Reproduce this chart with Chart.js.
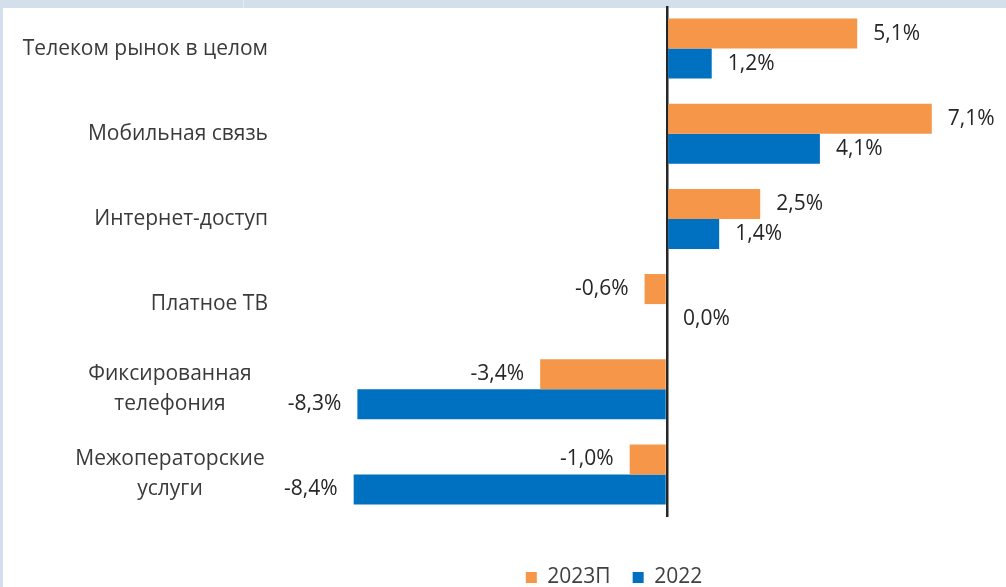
<!DOCTYPE html>
<html lang="ru">
<head>
<meta charset="utf-8">
<title>Телеком рынок</title>
<script src="https://cdn.jsdelivr.net/npm/chart.js@4/dist/chart.umd.min.js"></script>
<style>
  html, body { margin: 0; padding: 0; background: #ffffff; }
  #wrap { position: relative; width: 1006px; height: 587px; }
</style>
</head>
<body>
<div id="wrap"><canvas id="chart" width="1006" height="587"></canvas></div>
<script>
// ── Data ─────────────────────────────────────────────────────────────── //
var categories = [
  ['Телеком рынок в целом'],
  ['Мобильная связь'],
  ['Интернет-доступ'],
  ['Платное ТВ'],
  ['Фиксированная', 'телефония'],
  ['Межоператорские', 'услуги']
];
var seriesNames  = ['2023П', '2022'];
var values2023P  = [5.1, 7.1, 2.5, -0.6, -3.4, -1.0];
var values2022   = [1.2, 4.1, 1.4, 0.0, -8.3, -8.4];

var ORANGE = '#F59648';
var BLUE   = '#0070C0';
var FONT   = '"Open Sans", "Noto Sans", sans-serif';

function fmtPct(v) { return v.toFixed(1).replace('.', ',') + '%'; }

// ── Plugins ──────────────────────────────────────────────────────────── //
var backdrop = {
  id: 'backdrop',
  beforeDraw: function (chart) {
    var ctx = chart.ctx;
    ctx.save();
    ctx.fillStyle = '#d3e0ec';
    ctx.fillRect(0, 0, chart.width, chart.height);
    ctx.fillStyle = '#ffffff';
    ctx.fillRect(3, 8, chart.width - 3, chart.height - 8);
    ctx.fillStyle = '#e3ebf3';
    ctx.fillRect(243, 0, 1, 8);
    ctx.restore();
  }
};

// single-line labels are right aligned, wrapped ones centred in the label column
var categoryLabels = {
  id: 'categoryLabels',
  afterDraw: function (chart) {
    var ctx = chart.ctx, y = chart.scales.y;
    var rightEdge = 268, wrapCenter = 170, lineH = 30;
    ctx.save();
    ctx.font = '21px ' + FONT;
    ctx.fillStyle = '#3a3a3a';
    ctx.textAlign = 'center';
    ctx.textBaseline = 'middle';
    categories.forEach(function (lines, i) {
      var w = ctx.measureText(lines[0]).width;
      var cx = lines.length > 1 ? wrapCenter : rightEdge - w / 2;
      var cy = y.getPixelForValue(i);
      var y0 = cy - (lines.length - 1) * lineH / 2;
      lines.forEach(function (l, k) { ctx.fillText(l, cx, y0 + k * lineH); });
    });
    ctx.restore();
  }
};

var valueLabels = {
  id: 'valueLabels',
  afterDatasetsDraw: function (chart) {
    var ctx = chart.ctx, gap = 16;
    ctx.save();
    ctx.font = '21px ' + FONT;
    ctx.fillStyle = '#262626';
    ctx.textBaseline = 'middle';
    chart.data.datasets.forEach(function (ds, di) {
      chart.getDatasetMeta(di).data.forEach(function (bar, i) {
        var v = ds.data[i];
        if (v < 0) {
          ctx.textAlign = 'right';
          ctx.fillText(fmtPct(v), bar.x - gap, bar.y);
        } else {
          ctx.textAlign = 'left';
          ctx.fillText(fmtPct(v), bar.x + gap, bar.y);
        }
      });
    });
    ctx.restore();
  }
};

// ── Chart ────────────────────────────────────────────────────────────── //
new Chart(document.getElementById('chart').getContext('2d'), {
  type: 'bar',
  data: {
    labels: categories,
    datasets: [
      { label: seriesNames[0], data: values2023P, backgroundColor: ORANGE, borderWidth: 0 },
      { label: seriesNames[1], data: values2022,  backgroundColor: BLUE,   borderWidth: 0 }
    ]
  },
  options: {
    indexAxis: 'y',
    responsive: false,
    animation: false,
    layout: { padding: { left: 244, right: 22, top: 6, bottom: -11 } },
    datasets: { bar: { categoryPercentage: 0.705, barPercentage: 1.0 } },
    scales: {
      x: {
        min: -10, max: 8.5,
        ticks: { display: false, stepSize: 2 },
        border: { display: false },
        grid: {
          drawTicks: false,
          color: function (c) { return c.tick && c.tick.value === 0 ? '#262626' : 'rgba(0,0,0,0)'; },
          lineWidth: function (c) { return c.tick && c.tick.value === 0 ? 2.5 : 0; }
        },
        afterFit: function (s) { s.height = 28; }
      },
      y: {
        ticks: { display: false },
        grid: { display: false, drawTicks: false },
        border: { display: false },
        afterFit: function (s) { s.width = 50; }
      }
    },
    plugins: {
      tooltip: { enabled: false },
      legend: {
        position: 'bottom',
        labels: {
          boxWidth: 11, boxHeight: 11, padding: 22,
          color: '#404040',
          font: { family: FONT, size: 21 }
        }
      }
    }
  },
  plugins: [backdrop, categoryLabels, valueLabels]
});
</script>
</body>
</html>
